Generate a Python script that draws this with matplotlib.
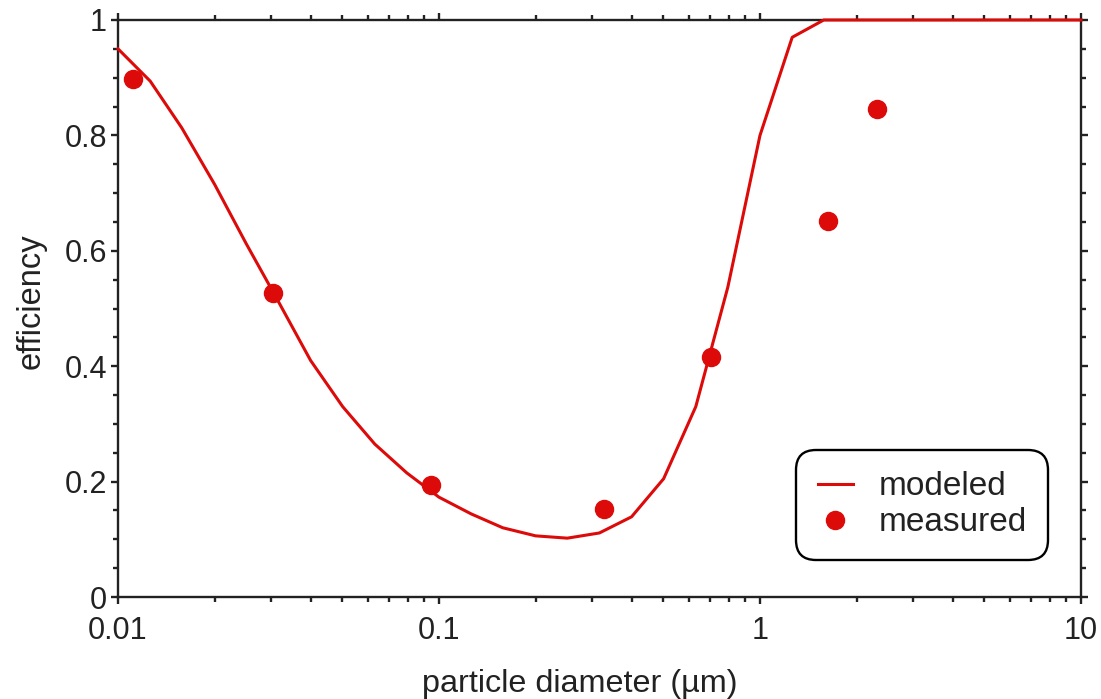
import matplotlib
matplotlib.use("Agg")
import matplotlib.pyplot as plt
import numpy as np
from matplotlib.ticker import LogLocator, MultipleLocator, FixedLocator

# modeled efficiency, 10 points per decade
model_d = [0.01, 0.0126, 0.0158, 0.02, 0.0251, 0.0316, 0.0398, 0.0501, 0.0631, 0.0794,
           0.1, 0.126, 0.158, 0.2, 0.251, 0.316, 0.398, 0.501, 0.631, 0.794,
           1.0, 1.26, 1.58, 2.0, 10.0]
model_eff = [0.95, 0.894, 0.813, 0.715, 0.612, 0.512, 0.41, 0.33, 0.265, 0.215,
             0.173, 0.144, 0.12, 0.106, 0.102, 0.111, 0.139, 0.205, 0.33, 0.537,
             0.80, 0.97, 1.0, 1.0, 1.0]

# measured points
meas_d = [0.0111, 0.0304, 0.0944, 0.327, 0.703, 1.63, 2.31]
meas_eff = [0.897, 0.527, 0.194, 0.1525, 0.416, 0.652, 0.846]

x_ticks = [0.01, 0.1, 1, 10]
x_labels = ["0.01", "0.1", "1", "10"]
y_ticks = [0, 0.2, 0.4, 0.6, 0.8, 1.0]
y_labels = ["0", "0.2", "0.4", "0.6", "0.8", "1"]

red = "#dd0a0a"
dark = "#222222"

plt.rcParams["font.family"] = ["Liberation Sans", "DejaVu Sans"]

fig = plt.figure(figsize=(11.01, 6.99), dpi=100)
ax = fig.add_axes([0.1072, 0.1459, 0.8746, 0.8255])

ax.plot(model_d, model_eff, color=red, lw=2.2, label="modeled", clip_on=False, zorder=5)
ax.plot(meas_d, meas_eff, "o", color=red, ms=13, label="measured", clip_on=False, zorder=6)

ax.set_xscale("log")
ax.set_xlim(0.01, 10)
ax.set_ylim(0, 1)

ax.xaxis.set_major_locator(FixedLocator(x_ticks))
ax.xaxis.set_minor_locator(LogLocator(base=10, subs=np.arange(2, 10)))
ax.set_xticklabels(x_labels)
ax.yaxis.set_major_locator(FixedLocator(y_ticks))
ax.yaxis.set_minor_locator(MultipleLocator(0.05))
ax.set_yticklabels(y_labels)

for s in ax.spines.values():
    s.set_linewidth(1.7)
    s.set_color(dark)

ax.tick_params(which="both", direction="out", top=True, right=True, color=dark,
               width=1.7, labelsize=22, labelcolor=dark, pad=3)
ax.tick_params(axis="x", which="both", pad=9)
ax.tick_params(which="major", length=5)
ax.tick_params(which="minor", length=3.7)

ax.set_xlabel("particle diameter (µm)", fontsize=23.3, color=dark)
ax.xaxis.set_label_coords(0.48, -0.125)
ax.xaxis.label.set_va("top")
ax.set_ylabel("efficiency", fontsize=23.5, color=dark, labelpad=13)
ax.yaxis.label.set_y(0.512)

leg = ax.legend(loc="lower right", bbox_to_anchor=(0.966, 0.064), borderaxespad=0,
                fontsize=24, handlelength=1.07, handletextpad=0.75, labelspacing=0.15,
                borderpad=0.65, frameon=True, fancybox=True)
fr = leg.get_frame()
fr.set_edgecolor("black")
fr.set_linewidth(1.7)
fr.set_alpha(1)
fr.set_boxstyle("round", pad=0, rounding_size=0.6)
for t in leg.get_texts():
    t.set_color(dark)

fig.savefig("out.png", dpi=100)
